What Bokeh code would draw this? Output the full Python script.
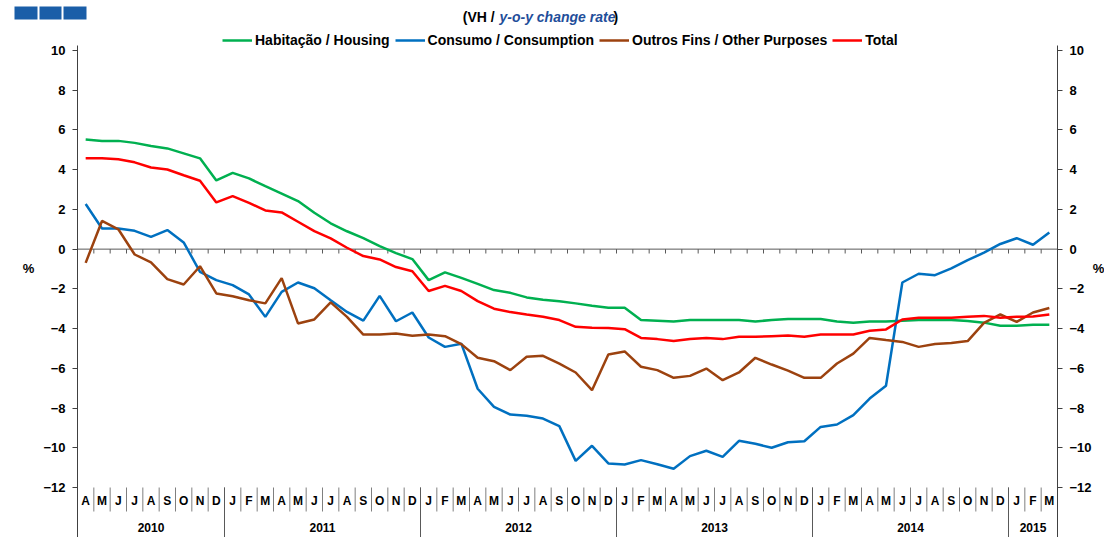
import numpy as np
from bokeh.plotting import figure
from bokeh.models import (Range1d, LinearAxis, FixedTicker, Legend, LegendItem,
                          Label, BoxAnnotation)
from bokeh.core.properties import value
from bokeh.embed import file_html
from bokeh.resources import INLINE

# ---------------- data ----------------
months = (["A", "M", "J", "J", "A", "S", "O", "N", "D"]
          + ["J", "F", "M", "A", "M", "J", "J", "A", "S", "O", "N", "D"] * 4
          + ["J", "F", "M"])
years = ["2010", "2011", "2012", "2013", "2014", "2015"]
year_counts = [9, 12, 12, 12, 12, 3]

housing = [5.52, 5.45, 5.45, 5.35, 5.19, 5.07, 4.82, 4.57, 3.46,
           3.84, 3.56, 3.17, 2.80, 2.42, 1.83, 1.30, 0.90, 0.55, 0.15, -0.20, -0.50,
           -1.56, -1.17, -1.45, -1.75, -2.06, -2.20, -2.43, -2.55, -2.62, -2.73, -2.85, -2.95,
           -2.95, -3.57, -3.60, -3.64, -3.57, -3.57, -3.57, -3.57, -3.64, -3.57, -3.52, -3.52,
           -3.52, -3.64, -3.70, -3.64, -3.64, -3.60, -3.57, -3.57, -3.57, -3.62, -3.70, -3.86,
           -3.86, -3.81, -3.81]
consumption = [2.27, 1.04, 1.04, 0.92, 0.62, 0.96, 0.34, -1.14, -1.56,
               -1.81, -2.28, -3.41, -2.15, -1.68, -1.97, -2.57, -3.16, -3.60, -2.35, -3.63, -3.19,
               -4.45, -4.92, -4.76, -7.03, -7.94, -8.33, -8.39, -8.53, -8.91, -10.66, -9.90, -10.79,
               -10.84, -10.62, -10.83, -11.06, -10.42, -10.15, -10.46, -9.65, -9.80, -10.00, -9.72, -9.67,
               -8.95, -8.83, -8.36, -7.52, -6.88, -1.68, -1.24, -1.31, -0.97, -0.55, -0.18, 0.26,
               0.55, 0.22, 0.84]
other = [-0.69, 1.42, 1.00, -0.27, -0.67, -1.51, -1.78, -0.86, -2.23,
         -2.37, -2.57, -2.73, -1.46, -3.74, -3.54, -2.68, -3.41, -4.30, -4.30, -4.25, -4.36,
         -4.30, -4.38, -4.78, -5.47, -5.64, -6.09, -5.42, -5.37, -5.76, -6.21, -7.10, -5.30,
         -5.15, -5.92, -6.09, -6.48, -6.38, -6.01, -6.60, -6.21, -5.47, -5.81, -6.12, -6.48,
         -6.48, -5.76, -5.26, -4.47, -4.58, -4.67, -4.92, -4.78, -4.72, -4.63, -3.71, -3.29,
         -3.66, -3.19, -2.96]
total = [4.57, 4.57, 4.52, 4.37, 4.11, 4.01, 3.72, 3.44, 2.35,
         2.67, 2.33, 1.95, 1.85, 1.38, 0.91, 0.54, 0.07, -0.35, -0.52, -0.90, -1.11,
         -2.11, -1.85, -2.11, -2.62, -3.00, -3.17, -3.29, -3.40, -3.57, -3.91, -3.96, -3.97,
         -4.03, -4.47, -4.53, -4.63, -4.52, -4.47, -4.53, -4.41, -4.41, -4.38, -4.35, -4.41,
         -4.30, -4.30, -4.30, -4.11, -4.04, -3.54, -3.46, -3.46, -3.46, -3.41, -3.36, -3.46,
         -3.41, -3.39, -3.29]

series_names = ["Habitação / Housing", "Consumo / Consumption",
                "Outros Fins / Other Purposes", "Total"]
series_colors = ["#00B050", "#0070C0", "#9C420F", "#FF0000"]
y_ticks = list(range(-12, 11, 2))

# ---------------- geometry (page pixels) ----------------
W, H = 1104, 537
AX_L, AX_R = 77.0, 1057.0      # pixel x of left / right value axes
Y_TOP_PX, Y_BOT_PX = 50.0, 487.0  # pixel y of 10 and -12
n = len(months)
cx0, cx1 = -0.5, n - 0.5
ppu_x = (AX_R - AX_L) / (cx1 - cx0)
ppu_y = (Y_BOT_PX - Y_TOP_PX) / 22.0


def dx(px):
    return cx0 + (px - AX_L) / ppu_x


def dy(py):
    return 10.0 - (py - Y_TOP_PX) / ppu_y


FONT = "Liberation Sans"

p = figure(width=W, height=H, output_backend="svg", toolbar_location=None,
           x_range=Range1d(dx(0), dx(W)), y_range=Range1d(dy(H), dy(0)),
           x_axis_location=None, y_axis_location=None,
           min_border_left=0, min_border_right=0, min_border_top=0, min_border_bottom=0)
p.grid.visible = False
p.outline_line_color = None
p.background_fill_color = "white"
p.border_fill_color = "white"

# y axes (left and right), fixed at the category edges
left_axis = LinearAxis(fixed_location=cx0)
right_axis = LinearAxis(fixed_location=cx1)
p.add_layout(left_axis, "left")
p.add_layout(right_axis, "right")
for ax in [left_axis, right_axis]:
    ax.ticker = FixedTicker(ticks=y_ticks)
    ax.bounds = (dy(H), dy(45))
    ax.axis_line_color = "#404040"
    ax.axis_line_width = 1
    ax.major_tick_line_color = "#404040"
    ax.major_tick_in = 0
    ax.major_tick_out = 5
    ax.minor_tick_in = 0
    ax.minor_tick_out = 0
    ax.major_label_text_font = FONT
    ax.major_label_text_font_style = "bold"
    ax.major_label_text_font_size = "13px"
    ax.major_label_text_color = "black"
    ax.major_label_standoff = 7

xs = np.arange(n)

# zero line with category ticks
p.segment(x0=[cx0], y0=[0], x1=[cx1], y1=[0], line_color="#595959", line_width=1)
bounds = np.arange(n - 1) + 0.5
p.segment(x0=bounds, y0=0, x1=bounds, y1=-0.22, line_color="#595959", line_width=1)

# series
renderers = []
for vals, c in zip([housing, consumption, other, total], series_colors):
    r = p.line(xs, vals, line_color=c, line_width=2.5)
    renderers.append(r)

# month separators / labels
p.segment(x0=bounds, y0=-12, x1=bounds, y1=dy(511), line_color="#7f7f7f", line_width=1)
p.text(x=xs, y=dy(500), text=months, text_align="center", text_baseline="middle",
       text_font=value(FONT), text_font_style="bold", text_font_size="12px",
       text_color="black")

# year separators / labels
starts = np.cumsum([0] + year_counts[:-1])
ends = starts + np.array(year_counts) - 1
ysep = (ends[:-1] + 0.5)
p.segment(x0=ysep, y0=-12, x1=ysep, y1=dy(H), line_color="#595959", line_width=1)
p.text(x=(starts + ends) / 2.0, y=dy(527), text=years, text_align="center",
       text_baseline="middle", text_font=value(FONT), text_font_style="bold",
       text_font_size="12px", text_color="black")

# legend
items = [LegendItem(label=nm, renderers=[r]) for nm, r in zip(series_names, renderers)]
legend = Legend(items=items, orientation="horizontal", location=(222, H - 39 - 9),
                padding=0, margin=0, spacing=5, glyph_width=30, glyph_height=14,
                label_standoff=3, label_height=14,
                label_text_font=FONT, label_text_font_style="bold",
                label_text_font_size="14px", label_text_color="black",
                border_line_color=None, background_fill_alpha=0)
p.add_layout(legend)

# percent labels
for px in [28, 1098]:
    p.add_layout(Label(x=dx(px), y=dy(268), text="%", text_align="center",
                       text_baseline="middle", text_font=FONT, text_font_style="bold",
                       text_font_size="13px", text_color="black"))

# subtitle
p.add_layout(Label(x=dx(498), y=dy(16), text="(VH / ", text_align="right",
                   text_baseline="middle", text_font=FONT, text_font_style="bold",
                   text_font_size="14px", text_color="black"))
p.add_layout(Label(x=dx(499), y=dy(16), text="y-o-y change rate", text_align="left",
                   text_baseline="middle", text_font=FONT, text_font_style="bold italic",
                   text_font_size="14px", text_color="#1F4E9A"))
p.add_layout(Label(x=dx(613), y=dy(16), text=")", text_align="left",
                   text_baseline="middle", text_font=FONT, text_font_style="bold",
                   text_font_size="14px", text_color="black"))

# logo blocks
for l, r in [(14, 37), (39, 61), (63, 86)]:
    p.add_layout(BoxAnnotation(left=dx(l), right=dx(r), top=dy(6), bottom=dy(19),
                               fill_color="#1A5EA8", fill_alpha=1, line_color=None))

open("out.html", "w").write(file_html(p, INLINE))
